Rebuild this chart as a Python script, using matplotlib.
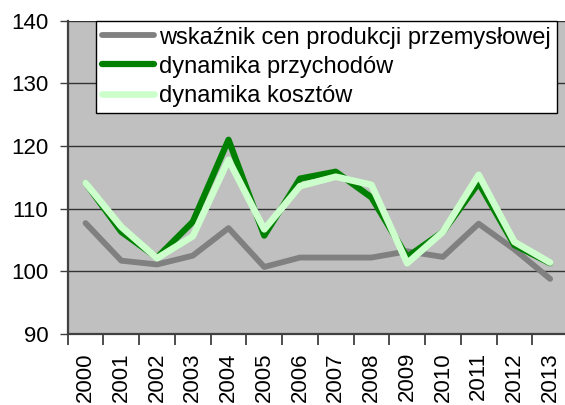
import numpy as np
import matplotlib
matplotlib.use("Agg")
import matplotlib.pyplot as plt

plt.rcParams['font.family'] = ['Liberation Sans', 'DejaVu Sans']

# data
years = [str(y) for y in range(2000, 2014)]
ceny = [107.7, 101.7, 101.1, 102.5, 106.9, 100.7, 102.2, 102.2, 102.2, 103.2, 102.3, 107.6, 103.5, 98.8]
przychody = [114.1, 106.3, 102.2, 107.9, 121.0, 105.7, 114.8, 115.9, 111.8, 102.3, 106.3, 114.1, 104.2, 101.3]
koszty = [114.1, 107.1, 102.1, 105.6, 117.8, 106.7, 113.6, 115.1, 113.8, 101.3, 106.3, 115.4, 104.7, 101.4]
labels = ['wskaźnik cen produkcji przemysłowej', 'dynamika przychodów', 'dynamika kosztów']

fig = plt.figure(figsize=(5.65, 4.05), dpi=100)
ax = fig.add_axes([0.1198, 0.1753, 0.8855, 0.7736])
ax.set_facecolor('#c0c0c0')

x = np.arange(len(years))
ax.plot(x, ceny, color='#808080', lw=4.2, solid_capstyle='round', label=labels[0])
ax.plot(x, przychody, color='#008000', lw=4.5, solid_capstyle='round', label=labels[1])
ax.plot(x, koszty, color='#ccffcc', lw=4.8, solid_capstyle='round', label=labels[2])

ax.set_xlim(-0.5, len(years) - 0.5)
ax.set_ylim(90, 140)
ax.set_yticks([90, 100, 110, 120, 130, 140])
ax.yaxis.grid(True, color='#333333', lw=1)
ax.set_axisbelow(True)

# category ticks between the labels
ax.set_xticks(np.arange(-0.5, len(years) + 0.5, 1))
ax.set_xticklabels([])
ax.set_xticks(x, minor=True)
ax.set_xticklabels(years, minor=True, rotation=90, fontsize=16)
ax.tick_params(axis='x', which='minor', length=0, pad=13)
ax.tick_params(axis='x', which='major', length=8, width=1.3, color='#404040', direction='out')
ax.tick_params(axis='y', length=6, width=1, color='#404040', labelsize=16, pad=8)

for s in ['top', 'right']:
    ax.spines[s].set_visible(False)
ax.spines['left'].set_color('#404040')
ax.spines['left'].set_linewidth(1.6)
ax.spines['bottom'].set_color('#404040')
ax.spines['bottom'].set_linewidth(1.6)

leg = ax.legend(loc='upper left', bbox_to_anchor=(0.0566, 1.0), fontsize=17,
                frameon=True, fancybox=False, edgecolor='black', framealpha=1,
                borderpad=0.25, handlelength=2.2, handletextpad=0.22,
                labelspacing=0.3, borderaxespad=0)
leg.get_frame().set_linewidth(1)

fig.savefig('out.png', dpi=100)
